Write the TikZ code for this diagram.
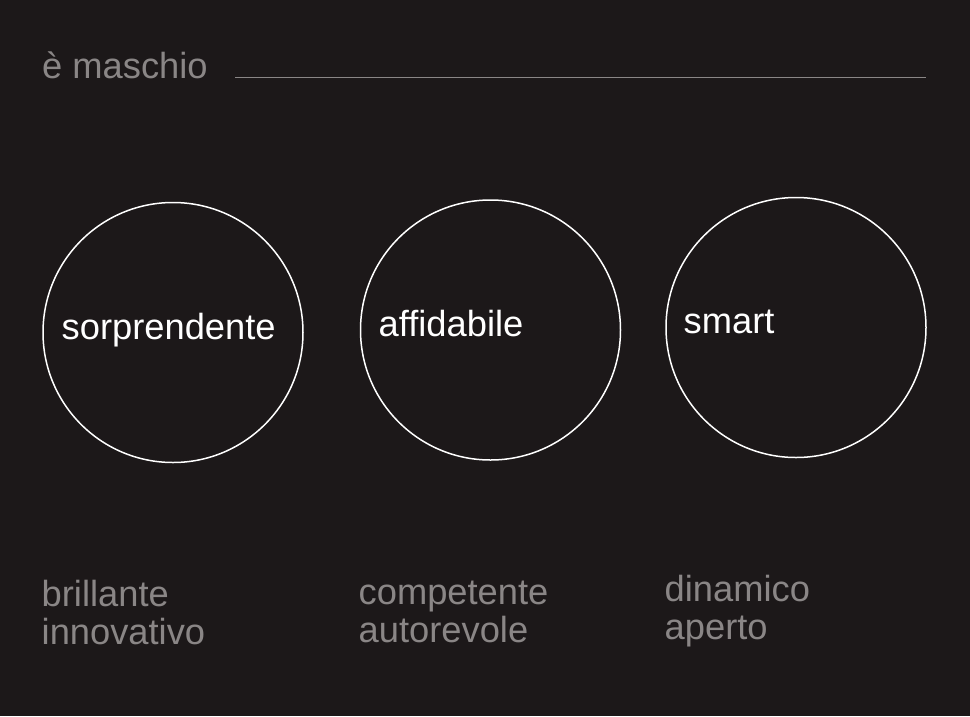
\documentclass[tikz,border=0pt]{standalone}
\usepackage{fontspec}
\setmainfont{Liberation Sans}
\definecolor{bg}{HTML}{1C1819}
\definecolor{gtxt}{HTML}{8A8686}
\begin{document}
\begin{tikzpicture}[x=1pt,y=-1pt,
  lbl/.style={inner sep=0pt,anchor=base west,font=\fontsize{36.3}{38}\selectfont},
  glbl/.style={lbl,text=gtxt,align=left},
  wlbl/.style={lbl,text=white},
  ring/.style={draw=white,line width=1.5pt,circle,minimum size=260pt,inner sep=0pt}]
\fill[bg] (0,0) rectangle (970,716);
\useasboundingbox (0,0) rectangle (970,716);
\node[glbl] (title) at (42,78) {è maschio};
\coordinate (l1) at (235,77.5);
\coordinate (l2) at (926,77.5);
\draw[gtxt,line width=1.5pt] (l1) -- (l2);
\node[ring] (c1) at (173,332.5) {};
\node[ring] (c2) at (490.5,330) {};
\node[ring] (c3) at (796,327.5) {};
\node[wlbl] (w1) at (61.5,339) {sorprendente};
\node[wlbl] (w2) at (378.5,336) {affidabile};
\node[wlbl] (w3) at (683.5,333) {smart};
\node[glbl] (g1a) at (41.5,606) {brillante};
\node[glbl] (g1b) at (41.5,644) {innovativo};
\node[glbl] (g2a) at (358.5,604) {competente};
\node[glbl] (g2b) at (358.5,642) {autorevole};
\node[glbl] (g3a) at (664.5,601) {dinamico};
\node[glbl] (g3b) at (664.5,639) {aperto};
\end{tikzpicture}
\end{document}
